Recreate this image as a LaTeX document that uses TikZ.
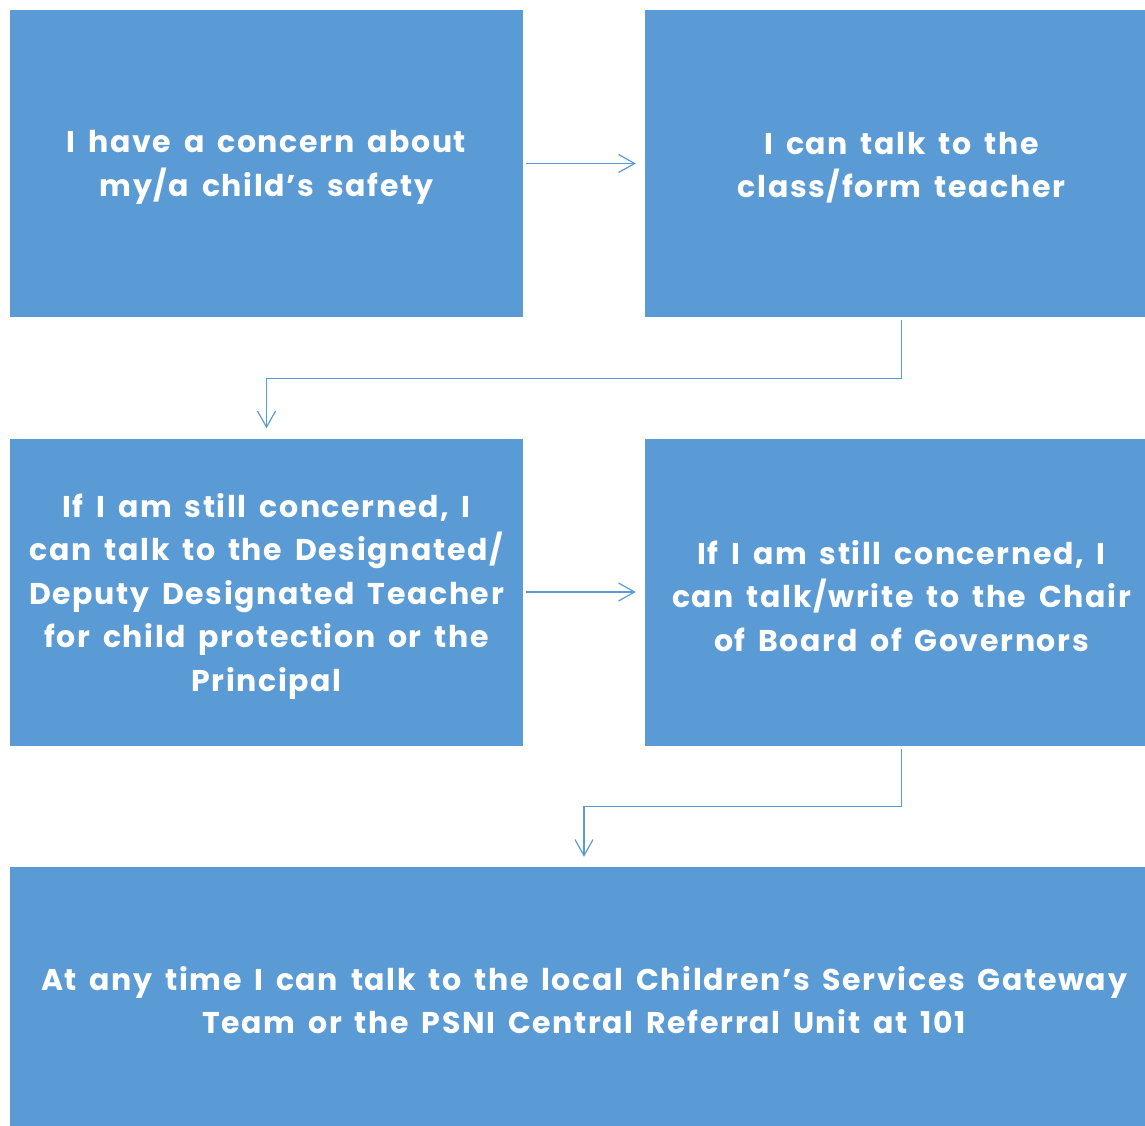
\documentclass[tikz,border=0pt]{standalone}
\usepackage{fontspec}
\setmainfont{Poppins}[LetterSpace=5.5,WordSpace=1.6]
\usetikzlibrary{arrows.meta}
\definecolor{boxblue}{HTML}{5B9BD5}
\tikzset{
  stepbox/.style={fill=boxblue, draw=none, minimum width=513pt, minimum height=307pt, inner sep=0pt},
  steptext/.style={text=white, font=\fontsize{30}{43.5}\selectfont\bfseries, align=center, inner sep=0pt},
  arr/.style={draw=boxblue, line width=1.2pt, -{Straight Barb[length=16pt,width=18pt,line width=1.2pt]}}
}
\begin{document}
\begin{tikzpicture}[x=1pt,y=-1pt]
\useasboundingbox (0,0) rectangle (1145,1126);
\clip (0,0) rectangle (1145,1126);
\node[stepbox] (b1) at (266.5,163.5) {};
\node[stepbox] (b2) at (901.5,163.5) {};
\node[stepbox] (b3) at (266.5,592) {};
\node[stepbox] (b4) at (901.5,592) {};
\node[stepbox, minimum width=1148pt, minimum height=266pt] (b5) at (584,1000) {};
\node[steptext] (t1) at ([yshift=-4pt]b1.center) {I have a concern about\\my/a child’s safety};
\node[steptext] (t2) at ([yshift=-4pt]b2.center) {I can talk to the\\class/form teacher};
\node[steptext] (t3) at ([yshift=-4pt]b3.center) {If I am still concerned, I\\can talk to the Designated/\\Deputy Designated Teacher\\for child protection or the\\Principal};
\node[steptext] (t4) at ([yshift=-4pt]b4.center) {If I am still concerned, I\\can talk/write to the Chair\\of Board of Governors};
\node[steptext] (t5) at (b5.center) {At any time I can talk to the local Children’s Services Gateway\\Team or the PSNI Central Referral Unit at 101};
\draw[arr] ([xshift=3pt]b1.east) -- ([xshift=-9pt]b2.west);
\draw[arr] ([xshift=3pt]b3.east) -- ([xshift=-9pt]b4.west);
\draw[arr] ([yshift=-3pt]b2.south) -- ++(0,58) -| ([yshift=10pt]b3.north);
\draw[arr] ([yshift=-3pt]b4.south) -- ++(0,58) -| ([yshift=10pt]b5.north);
\end{tikzpicture}
\end{document}
